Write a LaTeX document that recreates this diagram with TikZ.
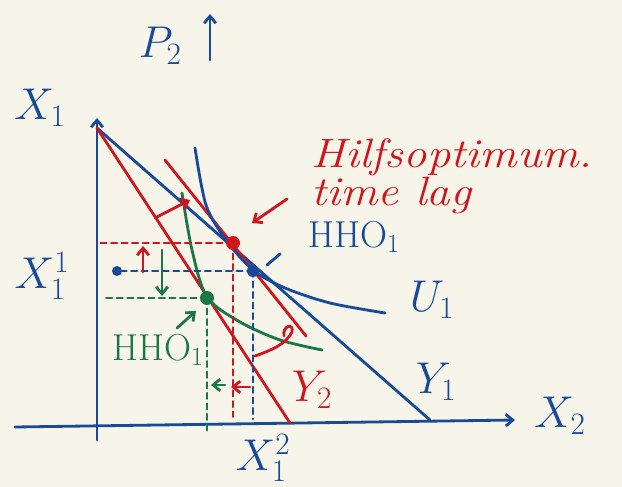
\RequirePackage{fix-cm}
\documentclass[tikz,border=0pt]{standalone}
\usepackage{amsmath,amssymb}
\usepackage{xcolor}
\usepackage{tikz}
\usetikzlibrary{arrows.meta}
\definecolor{inkblue}{RGB}{24,74,152}
\definecolor{inkred}{RGB}{208,22,28}
\definecolor{inkgreen}{RGB}{28,118,72}
\definecolor{paper}{RGB}{247,244,234}

\begin{document}
\begin{tikzpicture}[x=0.03cm,y=-0.03cm,line cap=round,line join=round,
  >={Straight Barb[length=6pt,width=10pt]},
  pen/.style={line width=2.4pt},
  guide/.style={line width=2pt,dash pattern=on 5pt off 4pt},
  lbl/.style={font=\fontsize{38}{42}\selectfont,inner sep=0pt},
  tag/.style={font=\fontsize{32}{36}\selectfont,inner sep=0pt},
  txt/.style={font=\fontsize{35}{31}\selectfont\itshape,inner sep=0pt,xscale=1.14,align=left}]
\fill[paper] (0,0) rectangle (622,487);
\useasboundingbox (0,0) rectangle (622,487);
\coordinate (origin) at (97,425);
\coordinate (peak) at (97,128);
\coordinate (hopt) at (233,243);
\coordinate (hho) at (253,271);
\coordinate (hhotwo) at (207,298);
\coordinate (xoneone) at (117,271);
% axes
\draw[inkblue,pen,->] (97,440) -- (97,118);
\draw[inkblue,pen,->] (15,427) -- (515,420);
\node[lbl,inkblue] (xone) at (40,108) {$X_1$};
\node[lbl,inkblue] (xtwo) at (560,416) {$X_2$};
\node[lbl,inkblue] (xoneup) at (42,276) {$X_1^1$};
\node[lbl,inkblue] (xonetwo) at (263,458) {$X_1^2$};
\node[lbl,inkblue] (ptwo) at (160,46) {$P_2$};
\draw[inkblue,pen,->] (210,60) -- (210,14);
% budget lines
\draw[inkblue,pen] (peak) -- (430,420);
\draw[inkred,pen] (peak) -- (290,423);
\draw[inkred,pen] (165,160) -- (306,336);
\node[lbl,inkblue] (yone) at (436,382) {$Y_1$};
\node[lbl,inkred] (ytwo) at (312,390) {$Y_2$};
% indifference curves
\draw[inkblue,pen] plot[smooth] coordinates {(195,148) (206,205) (226,240) (253,270) (285,288) (330,303) (385,313)};
\node[lbl,inkblue] (uone) at (432,300) {$U_1$};
\draw[inkgreen,pen] plot[smooth] coordinates {(182,193) (192,250) (207,297) (240,322) (280,340) (322,350)};
% guide lines
\draw[inkred,guide] (hopt) -- (hopt -| origin);
\draw[inkred,guide] (hopt) -- ([yshift=7]hopt |- origin);
\draw[inkblue,guide] (hho) -- (xoneone);
\draw[inkblue,guide] (hho) -- ([yshift=5]hho |- origin);
\draw[inkgreen,guide] (hhotwo) -- ([xshift=6]hhotwo -| origin);
\draw[inkgreen,guide] (hhotwo) -- ([yshift=-8]hhotwo |- origin);
\fill[inkred] (hopt) circle (7);
\fill[inkblue] (hho) circle (6);
\fill[inkgreen] (hhotwo) circle (7);
\fill[inkblue] (xoneone) circle (5);
% shifts
\draw[inkred,pen,->] (155,218) -- (190,200);
\draw[inkred,pen,->] (143,272) -- (143,246);
\draw[inkgreen,pen,->] (162,250) -- (162,296);
\draw[inkred,pen,->] (250,387) -- (231,387);
\draw[inkgreen,pen,->] (225,385) -- (211,385);
\draw[inkred,pen] (255,356) .. controls (272,350) and (286,344) .. (292,332) .. controls (294,322) and (282,326) .. (284,336);
% labels
\node[txt,inkred,anchor=west] (hilfs) at (311,176) {Hilfsoptimum.\\time lag};
\draw[inkred,pen,->] (287,199) -- (252,223);
\node[tag,inkblue,anchor=west] (hholbl) at (308,237) {HHO$_1$};
\draw[inkblue,pen] (267,265) -- (280,254);
\node[tag,inkgreen] (hhotwolbl) at (158,350) {HHO$_1$};
\draw[inkgreen,pen,->] (177,328) -- (196,311);
\end{tikzpicture}
\end{document}
